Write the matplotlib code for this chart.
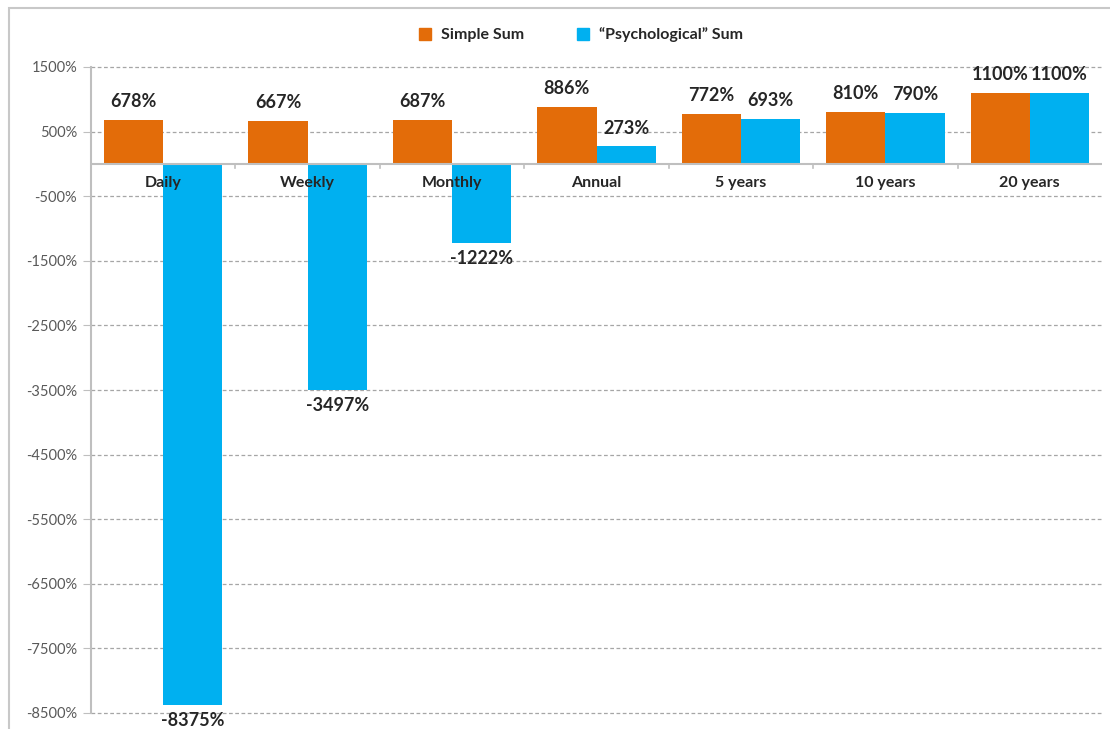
import matplotlib
matplotlib.use("Agg")
import matplotlib.pyplot as plt
import numpy as np
from matplotlib.lines import Line2D
from matplotlib.patches import Rectangle

# ---- data ------------------------------------------------------------------
categories = ["Daily", "Weekly", "Monthly", "Annual", "5 years", "10 years", "20 years"]
simple_sum = [678, 667, 687, 886, 772, 810, 1100]
psych_sum = [-8375, -3497, -1222, 273, 693, 790, 1100]
y_ticks = list(range(-8500, 1501, 1000))

ORANGE = "#E36C09"
BLUE = "#00B0F0"
GREY = "#BFBFBF"
TXT = "#262626"

plt.rcParams["font.family"] = ["Lato", "DejaVu Sans"]

fig = plt.figure(figsize=(11.1, 7.29), dpi=100)
ax = fig.add_axes([91 / 1110, 1 - 713 / 729, (1102 - 91) / 1110, (713 - 67) / 729])

# outer chart frame (cut off at right/bottom like the screenshot)
fig.patches.append(Rectangle((9 / 1110, -0.1), 1.2, 1 - 8 / 729 + 0.1,
                             transform=fig.transFigure, fill=False,
                             edgecolor="#C8C8C8", linewidth=1.5, zorder=0))

x = np.arange(len(categories))
w = 0.41
ax.bar(x - w / 2, simple_sum, width=w, color=ORANGE, zorder=2)
ax.bar(x + w / 2, psych_sum, width=w, color=BLUE, zorder=2)

# value labels
for xs, vals in ((x - w / 2, simple_sum), (x + w / 2, psych_sum)):
    for xi, v in zip(xs, vals):
        if v >= 0:
            ax.annotate(f"{v}%", (xi, v), xytext=(0, 7), textcoords="offset points",
                        ha="center", va="bottom", fontsize=13, fontweight="bold",
                        color=TXT, zorder=5)
        else:
            ax.annotate(f"{v}%", (xi, v), xytext=(0, -5), textcoords="offset points",
                        ha="center", va="top", fontsize=13, fontweight="bold",
                        color=TXT, zorder=5, annotation_clip=False)

# category labels just under the zero line
for xi, c in zip(x, categories):
    ax.annotate(c, (xi, 0), xytext=(0, -9), textcoords="offset points",
                ha="center", va="top", fontsize=11.5, fontweight="bold",
                color=TXT, zorder=6)

ax.set_xlim(-0.5, len(categories) - 0.5)
ax.set_ylim(-8500, 1500)
ax.set_yticks(y_ticks)
ax.set_yticklabels([f"{t}%" for t in y_ticks], fontsize=10.5, color="#595959")
ax.tick_params(axis="y", length=6, color=GREY, pad=4)
ax.grid(axis="y", color="#A6A6A6", linestyle=(0, (3, 2)), linewidth=0.9, zorder=0)
for gl in ax.get_ygridlines():
    gl.set_clip_on(False)
ax.set_axisbelow(True)

# x axis drawn at zero with tick marks at category boundaries
ax.set_xticks([])
ax.axhline(0, color=GREY, linewidth=1.5, zorder=3)
for b in np.arange(0.5, len(categories) - 0.5):
    ax.plot([b, b], [0, -70], color=GREY, linewidth=1.2, zorder=3)

for s in ("top", "right", "bottom"):
    ax.spines[s].set_visible(False)
ax.spines["left"].set_color(GREY)
ax.spines["left"].set_linewidth(1.5)

handles = [
    Line2D([], [], marker="s", linestyle="", markersize=8, color=ORANGE),
    Line2D([], [], marker="s", linestyle="", markersize=8, color=BLUE),
]
fig.legend(handles, ["Simple Sum", "\u201cPsychological\u201d Sum"], loc="center",
           bbox_to_anchor=(0.523, 1 - 35 / 729), ncol=2, frameon=False,
           prop={"size": 11.5, "weight": "bold"}, handlelength=0.8,
           handletextpad=0.6, columnspacing=3.3, labelcolor=TXT)

fig.savefig("out.png", dpi=100)
